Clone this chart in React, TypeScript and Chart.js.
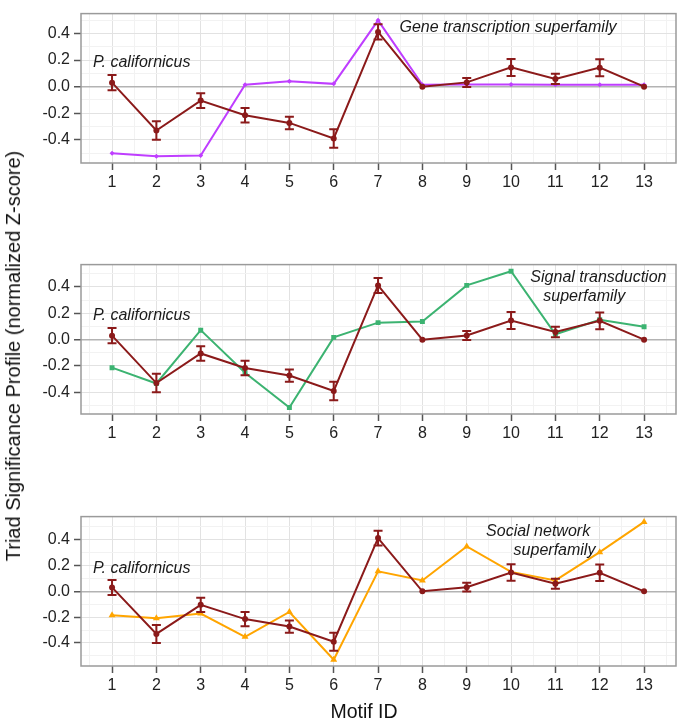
import React, { useEffect, useRef } from "react";
import { Chart, registerables } from "chart.js";
Chart.register(...registerables);

const motifIds = [1, 2, 3, 4, 5, 6, 7, 8, 9, 10, 11, 12, 13];
const californicus = [0.03, -0.33, -0.105, -0.215, -0.273, -0.39, 0.412, 0.0, 0.032, 0.145, 0.058, 0.143, 0.0];
const californicusErr = [0.058, 0.07, 0.055, 0.055, 0.047, 0.07, 0.057, 0, 0.034, 0.064, 0.039, 0.064, 0];
const geneTranscription = [-0.502, -0.525, -0.518, 0.014, 0.04, 0.021, 0.499, 0.014, 0.017, 0.017, 0.014, 0.014, 0.014];
const signalTransduction = [-0.213, -0.333, 0.072, -0.251, -0.515, 0.017, 0.129, 0.137, 0.412, 0.52, 0.041, 0.151, 0.098];
const socialNetwork = [-0.185, -0.209, -0.172, -0.352, -0.16, -0.53, 0.155, 0.084, 0.347, 0.15, 0.084, 0.303, 0.537];
const yTickValues = [-0.4, -0.2, 0, 0.2, 0.4];
const yTickLabels = ["-0.4", "-0.2", "0.0", "0.2", "0.4"];
const xTickLabels = motifIds.map(String);

const FONT = '"Liberation Sans", Arial, Helvetica, sans-serif';
const DARK_RED = "#8B1A1A";

type Note = { text: string; x: number; y: number };
type PanelCfg = {
  top: number;
  label: string;
  values: number[];
  color: string;
  pointStyle: string;
  radius: number;
  yMin: number;
  yMax: number;
  notes: Note[];
};

const panels: PanelCfg[] = [
  {
    top: 0,
    label: "Gene transcription superfamily",
    values: geneTranscription,
    color: "#BF3EFF",
    pointStyle: "rectRot",
    radius: 2.5,
    yMin: -0.575,
    yMax: 0.55,
    notes: [
      { text: "P. californicus", x: 1.67, y: 0.184 },
      { text: "Gene transcription superfamily", x: 9.93, y: 0.447 },
    ],
  },
  {
    top: 251,
    label: "Signal transduction superfamily",
    values: signalTransduction,
    color: "#3CB371",
    pointStyle: "rect",
    radius: 3.5,
    yMin: -0.565,
    yMax: 0.57,
    notes: [
      { text: "P. californicus", x: 1.67, y: 0.181 },
      { text: "Signal transduction", x: 11.97, y: 0.474 },
      { text: "superfamily", x: 11.65, y: 0.33 },
    ],
  },
  {
    top: 503,
    label: "Social network superfamily",
    values: socialNetwork,
    color: "#FFA500",
    pointStyle: "triangle",
    radius: 4,
    yMin: -0.578,
    yMax: 0.578,
    notes: [
      { text: "P. californicus", x: 1.67, y: 0.175 },
      { text: "Social network", x: 10.61, y: 0.459 },
      { text: "superfamily", x: 10.98, y: 0.316 },
    ],
  },
];

const xGrid: number[] = [];
for (let i = 1; i <= 27; i++) xGrid.push(i / 2);
const yGrid: number[] = [];
for (let i = -5; i <= 5; i++) yGrid.push(i / 10);

const isInt = (v: number) => Math.abs(v - Math.round(v)) < 1e-9;
const isYMajor = (v: number) => yTickValues.some((m) => Math.abs(m - v) < 1e-9);

const borderPlugin = {
  id: "panelBorder",
  beforeDatasetsDraw(chart: any) {
    const { ctx, chartArea } = chart;
    ctx.save();
    ctx.strokeStyle = "#9a9a9a";
    ctx.lineWidth = 1.5;
    ctx.strokeRect(chartArea.left, chartArea.top, chartArea.right - chartArea.left, chartArea.bottom - chartArea.top);
    ctx.restore();
  },
};

const errorBarPlugin = {
  id: "errorBars",
  afterDatasetsDraw(chart: any) {
    const { ctx } = chart;
    const yScale = chart.scales.y;
    chart.data.datasets.forEach((ds: any, i: number) => {
      if (!ds.errors) return;
      const meta = chart.getDatasetMeta(i);
      ctx.save();
      ctx.strokeStyle = ds.borderColor;
      ctx.lineWidth = 2;
      meta.data.forEach((el: any, j: number) => {
        const e = ds.errors[j];
        if (!e) return;
        const v = ds.data[j].y;
        const yTop = yScale.getPixelForValue(v + e);
        const yBot = yScale.getPixelForValue(v - e);
        const x = el.x;
        ctx.beginPath();
        ctx.moveTo(x, yTop);
        ctx.lineTo(x, yBot);
        ctx.moveTo(x - 4.5, yTop);
        ctx.lineTo(x + 4.5, yTop);
        ctx.moveTo(x - 4.5, yBot);
        ctx.lineTo(x + 4.5, yBot);
        ctx.stroke();
      });
      ctx.restore();
    });
  },
};

const notesPlugin = {
  id: "notes",
  afterDraw(chart: any) {
    const notes: Note[] = chart.options.plugins.notes?.items || [];
    const { ctx } = chart;
    ctx.save();
    ctx.font = `italic 16px ${FONT}`;
    ctx.fillStyle = "#1a1a1a";
    ctx.textAlign = "center";
    ctx.textBaseline = "middle";
    notes.forEach((n) => {
      ctx.fillText(n.text, chart.scales.x.getPixelForValue(n.x), chart.scales.y.getPixelForValue(n.y));
    });
    ctx.restore();
  },
};

function Panel({ cfg }: { cfg: PanelCfg }) {
  const ref = useRef<HTMLCanvasElement | null>(null);
  useEffect(() => {
    if (!ref.current) return;
    const tickFont = { family: FONT, size: 16 };
    const chart = new Chart(ref.current, {
      type: "line",
      data: {
        datasets: [
          {
            label: "P. californicus",
            data: motifIds.map((m, i) => ({ x: m, y: californicus[i] })),
            borderColor: DARK_RED,
            backgroundColor: DARK_RED,
            borderWidth: 2,
            pointRadius: 3,
            pointStyle: "circle",
            pointBorderWidth: 0,
            tension: 0,
            errors: californicusErr,
          } as any,
          {
            label: cfg.label,
            data: motifIds.map((m, i) => ({ x: m, y: cfg.values[i] })),
            borderColor: cfg.color,
            backgroundColor: cfg.color,
            borderWidth: 2,
            pointRadius: cfg.radius,
            pointStyle: cfg.pointStyle as any,
            pointBorderWidth: 0,
            tension: 0,
          },
        ],
      },
      options: {
        responsive: false,
        animation: false,
        devicePixelRatio: 1,
        layout: { padding: { top: 5, right: 4, left: 0, bottom: 0 } },
        plugins: {
          legend: { display: false },
          tooltip: { enabled: false },
          notes: { items: cfg.notes },
        } as any,
        scales: {
          x: {
            type: "linear",
            min: 0.3,
            max: 13.72,
            afterBuildTicks: (s: any) => {
              s.ticks = xGrid.map((v) => ({ value: v }));
            },
            afterFit: (s: any) => {
              s.height = 67;
            },
            ticks: {
              autoSkip: false,
              maxRotation: 0,
              minRotation: 0,
              padding: 3,
              color: "#222",
              font: tickFont,
              callback: (v: any) => (isInt(Number(v)) ? xTickLabels[Math.round(Number(v)) - 1] : ""),
            },
            grid: {
              color: (c: any) => (c.tick && isInt(c.tick.value) ? "#e2e2e2" : "#f2f2f2"),
              lineWidth: 1,
              tickLength: 7,
              tickWidth: 1.5,
              tickColor: (c: any) => (c.tick && isInt(c.tick.value) ? "#555" : "rgba(0,0,0,0)"),
            },
            border: { display: false },
          },
          y: {
            type: "linear",
            min: cfg.yMin,
            max: cfg.yMax,
            afterBuildTicks: (s: any) => {
              s.ticks = yGrid.map((v) => ({ value: v }));
            },
            afterFit: (s: any) => {
              s.width = 81;
            },
            ticks: {
              autoSkip: false,
              padding: 4,
              color: "#222",
              font: tickFont,
              callback: (v: any) => {
                const idx = yTickValues.findIndex((m) => Math.abs(m - Number(v)) < 1e-9);
                return idx >= 0 ? yTickLabels[idx] : "";
              },
            },
            grid: {
              color: (c: any) => {
                if (!c.tick) return "#f2f2f2";
                if (Math.abs(c.tick.value) < 1e-9) return "#b3b3b3";
                return isYMajor(c.tick.value) ? "#e2e2e2" : "#f2f2f2";
              },
              lineWidth: (c: any) => (c.tick && Math.abs(c.tick.value) < 1e-9 ? 1.5 : 1),
              tickLength: 7,
              tickWidth: 1.5,
              tickColor: (c: any) => (c.tick && isYMajor(c.tick.value) ? "#555" : "rgba(0,0,0,0)"),
            },
            border: { display: false },
          },
        },
      } as any,
      plugins: [borderPlugin, errorBarPlugin, notesPlugin],
    });
    return () => chart.destroy();
  }, [cfg]);
  return (
    <canvas
      ref={ref}
      width={680}
      height={230}
      style={{ position: "absolute", left: 0, top: cfg.top, width: 680, height: 230 }}
    />
  );
}

export default function App() {
  return (
    <div style={{ position: "absolute", left: 0, top: 0, width: 680, height: 724, background: "#fff", overflow: "hidden" }}>
      {panels.map((p) => (
        <Panel key={p.label} cfg={p} />
      ))}
      <div
        style={{
          position: "absolute",
          left: 13,
          top: 356,
          transform: "translate(-50%, -50%) rotate(-90deg)",
          whiteSpace: "nowrap",
          fontFamily: FONT,
          fontSize: 20,
          color: "#111",
          lineHeight: 1,
        }}
      >
        Triad Significance Profile (normalized Z-score)
      </div>
      <div
        style={{
          position: "absolute",
          left: 364,
          top: 712,
          transform: "translate(-50%, -50%)",
          whiteSpace: "nowrap",
          fontFamily: FONT,
          fontSize: 19.5,
          color: "#111",
          lineHeight: 1,
        }}
      >
        Motif ID
      </div>
    </div>
  );
}
